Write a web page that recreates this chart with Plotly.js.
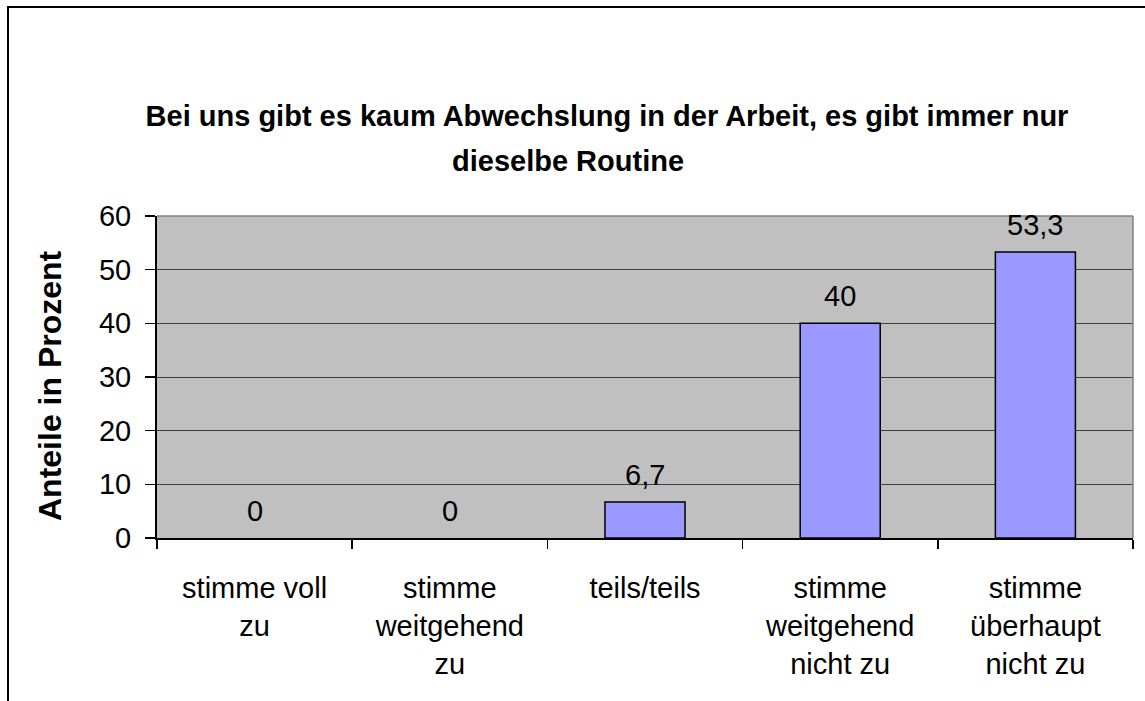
<!DOCTYPE html>
<html>
<head>
<meta charset="utf-8">
<script src="https://cdn.plot.ly/plotly-3.0.1.min.js"></script>
<style>
  body { margin: 0; background: #fff; }
  #wrap { position: relative; width: 1145px; height: 701px; }
  #graph { width: 1145px; height: 701px; }
  #frame { position: absolute; left: 7px; top: 6px; right: -4px; bottom: -4px;
           border-left: 2px solid #000; border-top: 2px solid #000; pointer-events: none; }
</style>
</head>
<body>
<div id="wrap">
  <div id="graph"></div>
  <div id="frame"></div>
</div>
<script>
// Antwortkategorien und Anteile in Prozent
const categories = [
    "stimme voll<br>zu",
    "stimme<br>weitgehend<br>zu",
    "teils/teils",
    "stimme<br>weitgehend<br>nicht zu",
    "stimme<br>überhaupt<br>nicht zu"
];
const values = [0, 0, 6.7, 40, 53.3];
const yTicks = [0, 10, 20, 30, 40, 50, 60];
const titleLines = [
    "Bei uns gibt es kaum Abwechslung in der Arbeit, es gibt immer nur",
    "dieselbe Routine"
];

// Beschriftung mit Dezimalkomma
const labels = values.map(v => String(v).replace(".", ","));

const trace = {
    type: "bar",
    x: categories,
    y: values,
    marker: {
        color: "#9999FF",
        line: { color: "#000", width: values.map(v => v > 0 ? 1.5 : 0) }
    },
    hoverinfo: "none"
};

// Datenbeschriftungen über den Säulen
const valueLabels = categories.map((c, i) => ({
    x: c, y: values[i], xref: "x", yref: "y",
    text: labels[i], showarrow: false,
    xanchor: "center", yanchor: "bottom", yshift: 9,
    font: { size: 29, color: "#000" }
}));

const layout = {
    width: 1145,
    height: 701,
    margin: { l: 157, r: 12, t: 216, b: 163 },
    paper_bgcolor: "#fff",
    plot_bgcolor: "#C0C0C0",
    font: { family: "Arial, Liberation Sans, sans-serif", size: 29, color: "#000" },
    bargap: 0.59,
    showlegend: false,
    title: {
        text: "<b>" + titleLines[0] + "</b>",
        font: { size: 29, color: "#000" },
        x: 607 / 1145, xref: "container", xanchor: "center",
        y: 1 - 116 / 701, yref: "container", yanchor: "middle"
    },
    xaxis: {
        type: "category",
        showline: true, linecolor: "#000", linewidth: 1.5,
        ticks: "outside", tickson: "boundaries", ticklen: 9, tickcolor: "#000", tickwidth: 1.5,
        ticklabelstandoff: 24,
        showgrid: false, zeroline: false,
        tickfont: { size: 29 }
    },
    yaxis: {
        range: [0, 60],
        tickvals: yTicks,
        showline: true, linecolor: "#000", linewidth: 2,
        ticks: "outside", ticklen: 10, tickcolor: "#000", tickwidth: 1.5,
        ticklabelstandoff: 8,
        showgrid: true, gridcolor: "#404040", gridwidth: 1,
        zeroline: false,
        tickfont: { size: 29 }
    },
    shapes: [
        { type: "line", xref: "paper", yref: "paper", x0: 0, x1: 1, y0: 1, y1: 1,
          line: { color: "#808080", width: 1.5 }, layer: "above" },
        { type: "line", xref: "paper", yref: "paper", x0: 1, x1: 1, y0: 0, y1: 1,
          line: { color: "#808080", width: 1.5 }, layer: "above" }
    ],
    annotations: valueLabels.concat([
        {
            text: "<b>" + titleLines[1] + "</b>",
            xref: "paper", yref: "paper",
            x: (568 - 157) / 976, y: (538 - 161) / 322,
            xanchor: "center", yanchor: "middle", showarrow: false,
            font: { size: 29, color: "#000" }
        },
        {
            text: "<b>Anteile in Prozent</b>",
            xref: "paper", yref: "paper",
            x: (50 - 157) / 976, y: 0.5 - 9 / 322,
            xanchor: "center", yanchor: "middle",
            textangle: -90, showarrow: false,
            font: { size: 32, color: "#000" }
        }
    ])
};

Plotly.newPlot("graph", [trace], layout, { displayModeBar: false, staticPlot: true });
</script>
</body>
</html>
